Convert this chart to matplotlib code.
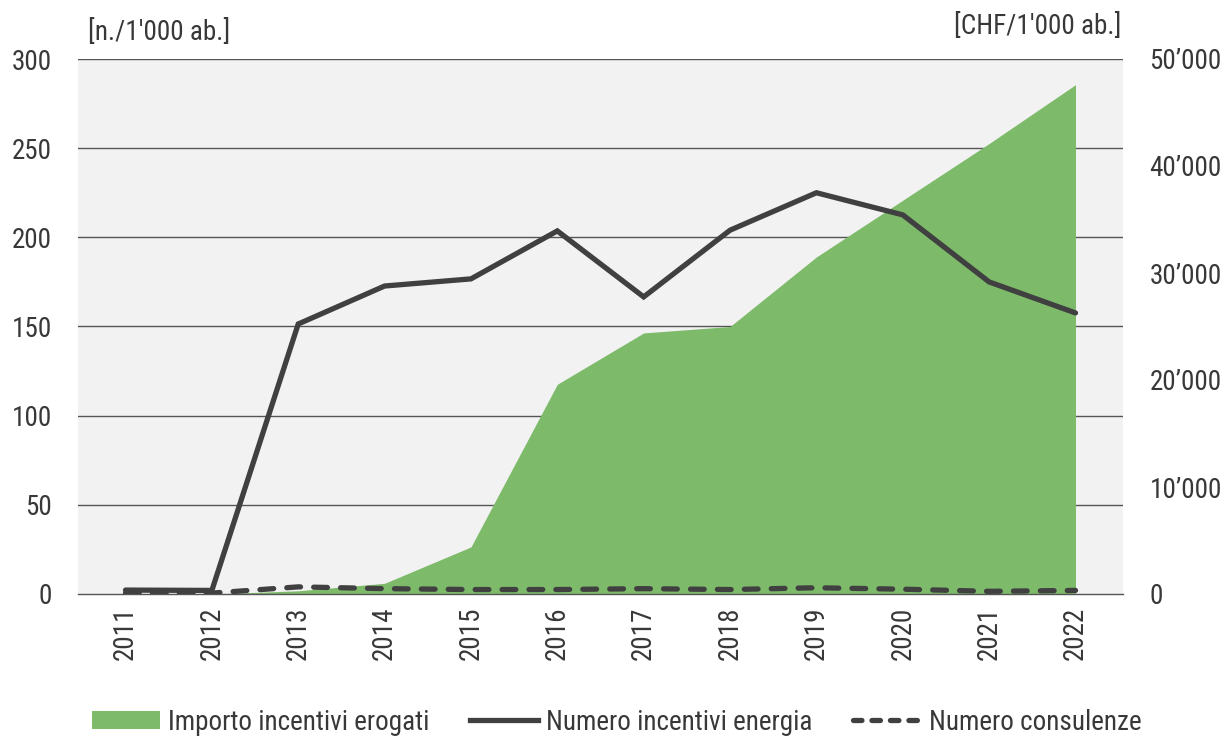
import matplotlib
matplotlib.use("Agg")
import matplotlib.pyplot as plt
from matplotlib.patches import Patch
from matplotlib.lines import Line2D
import matplotlib.ticker as mticker

years = ["2011", "2012", "2013", "2014", "2015", "2016", "2017", "2018", "2019", "2020", "2021", "2022"]
importo = [0, 0, 300, 1000, 4400, 19600, 24400, 25000, 31500, 36800, 42100, 47600]
incentivi = [2.2, 2.0, 151.4, 172.7, 176.7, 203.6, 166.6, 204.0, 225.0, 212.6, 175.0, 157.6]
consulenze = [0.5, 0.5, 4.0, 3.0, 2.5, 2.5, 3.0, 2.5, 3.5, 2.7, 1.5, 2.0]

fam = ['Roboto Condensed', 'Liberation Sans Narrow', 'DejaVu Sans']
plt.rcParams['font.family'] = fam

green = '#7dba6a'
dark = '#404040'
txt = '#383838'
FS = 19.5

fig = plt.figure(figsize=(12.24, 7.38), dpi=100)
ax = fig.add_axes([78/1224, 1-594/738, (1123-78)/1224, 535/738])
ax2 = ax.twinx()
ax.set_zorder(ax2.get_zorder() + 1)
ax.patch.set_visible(False)
ax2.patch.set_visible(True)
ax2.patch.set_facecolor('#f2f2f2')

x = list(range(len(years)))
ax2.fill_between(x, importo, 0, color=green, linewidth=0, zorder=2)
ax2.set_ylim(0, 50000)
ax2.set_yticks(range(0, 50001, 10000))
ax2.yaxis.set_major_formatter(mticker.FuncFormatter(lambda v, p: '0' if v == 0 else f"{int(v/1000)}\u2019000"))

ax.set_ylim(0, 300)
ax.set_yticks(range(0, 301, 50))
for yv in range(50, 301, 50):
    ax2.axhline(yv / 300 * 50000, color='#555555', lw=1.0, zorder=1)
ax.plot(x, incentivi, color=dark, lw=3.8, solid_capstyle='round', solid_joinstyle='miter', zorder=5)
ax.plot(x, consulenze, color=dark, lw=3.8, dashes=(2.6, 2.5), dash_capstyle='round', zorder=5)
ax.set_xlim(-0.55, 11.55)
ax.set_xticks(x)
ax.set_xticklabels(years, rotation=90)

for a in (ax, ax2):
    for s in a.spines.values():
        s.set_visible(False)
    a.tick_params(length=0, labelsize=FS, colors=txt)
ax.spines['bottom'].set_visible(True)
ax.spines['bottom'].set_color('#555555')
ax.spines['bottom'].set_linewidth(1.0)
ax.tick_params(axis='y', pad=19)
ax2.tick_params(axis='y', pad=19)
ax.tick_params(axis='x', pad=9)

fig.text(88/1224, 1-32/738, "[n./1'000 ab.]", fontsize=FS, color=txt, va='center', ha='left')
fig.text(1121/1224, 1-27/738, "[CHF/1'000 ab.]", fontsize=FS, color=txt, va='center', ha='right')

handles = [Patch(facecolor=green, edgecolor='none'),
           Line2D([0], [0], color=dark, lw=3.8),
           Line2D([0], [0], color=dark, lw=3.8, dashes=(1.6, 1.9), dash_capstyle='round')]
labels = ["Importo incentivi erogati", "Numero incentivi energia", "Numero consulenze"]
fig.legend(handles, labels, loc='center', bbox_to_anchor=(617/1224, 1-722/738), ncol=3,
           frameon=False, fontsize=FS, handlelength=2.5, handleheight=0.6, handletextpad=0.3,
           columnspacing=1.5, labelcolor=txt)

fig.savefig('out.png', dpi=100)
